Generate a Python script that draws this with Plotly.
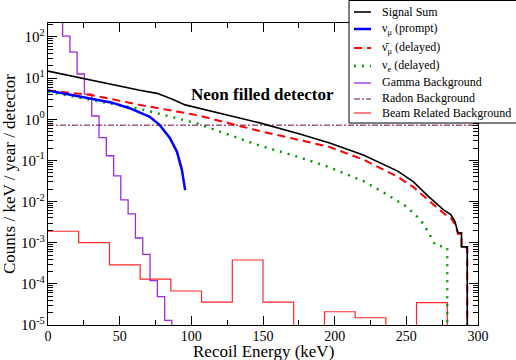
import plotly.graph_objects as go

# ---------------- data ----------------
sum_E = [0, 30, 64, 76, 86, 95.7, 120, 147, 175, 196, 220, 244, 255, 265, 276, 281, 284, 286, 288.5, 288.5, 292.5, 292.5]
sum_y = [14.8, 8.9, 5.1, 4.27, 3.16, 2.24, 1.41, 0.83, 0.447, 0.269, 0.135, 0.055, 0.030, 0.0138, 0.0063, 0.0048, 0.0032, 0.00174, 0.00174, 0.00079, 0.00079, 1e-9]

prompt_E = [0, 15, 30, 44, 57, 71, 78, 85, 90, 93.4, 95.7]
prompt_y = [5.0, 4.0, 3.24, 2.57, 1.86, 1.15, 0.72, 0.35, 0.162, 0.059, 0.019]

mubar_E = [0, 30, 64, 92, 104, 120, 147, 175, 196, 220, 244, 255, 265, 276, 281, 284, 286, 288.5, 288.5, 292.5, 292.5]
mubar_y = [5.0, 3.9, 2.24, 1.48, 1.26, 0.91, 0.525, 0.316, 0.214, 0.105, 0.040, 0.0224, 0.011, 0.0052, 0.0040, 0.0028, 0.00166, 0.00166, 0.00076, 0.00076, 1e-9]

nue_E = [0, 30, 64, 76, 92, 104, 120, 147, 175, 196, 220, 237, 250, 260, 265, 270, 278.5, 278.5]
nue_y = [4.68, 2.95, 1.78, 1.41, 1.0, 0.79, 0.50, 0.234, 0.12, 0.069, 0.0316, 0.0145, 0.0076, 0.00355, 0.0019, 0.00089, 0.00076, 1e-9]

gamma_edges = [5.1, 10.2, 15.3, 20.3, 25.4, 30.5, 35.6, 40.7, 45.8, 50.8, 55.9, 61.0, 66.1, 71.2, 76.3, 81.4, 86.4, 91.5]
gamma_vals = [1000, 105, 43, 12.6, 4.1, 1.2, 0.36, 0.13, 0.042, 0.011, 0.005, 0.0013, 0.00052, 0.00012, 0.000049, 0.000013, 1e-9]

radon_E = [0, 300]
radon_y = [0.72, 0.72]

beam_edges = [0, 21.4, 42.9, 64.3, 85.7, 107.1, 128.6, 150, 171.4, 192.9, 214.3, 235.7, 257.1, 278.6, 300]
beam_vals = [1.9e-3, 1.0e-3, 2.9e-4, 1.3e-4, 6.7e-5, 3.6e-5, 3.8e-4, 3.6e-5, 1e-9, 2.1e-5, 1.5e-5, 1e-9, 3.5e-5, 1e-9]

x_ticks = [0, 50, 100, 150, 200, 250, 300]
y_ticks = [1e-5, 1e-4, 1e-3, 1e-2, 1e-1, 1e0, 1e1, 1e2]
y_ticktext = ["10<sup>-5</sup>", "10<sup>-4</sup>", "10<sup>-3</sup>", "10<sup>-2</sup>",
              "10<sup>-1</sup>", "10<sup>0</sup>", "10<sup>1</sup>", "10<sup>2</sup>"]

legend_names = ["Signal Sum", "ν<sub>μ</sub> (prompt)", "ν\u0304<sub>μ</sub> (delayed)", "ν<sub>e</sub> (delayed)",
                "Gamma Background", "Radon Background", "Beam Related Background"]

# ---------------- styles ----------------
C_SUM = "black"
C_PROMPT = "rgb(0,0,255)"
C_MUBAR = "rgb(255,0,0)"
C_NUE = "rgb(0,150,0)"
C_GAMMA = "rgb(160,40,225)"
C_RADON = "rgb(103,7,72)"
C_BEAM = "rgb(255,40,40)"
SERIF = "Liberation Serif"

styles = [
    dict(color=C_SUM, width=1.6, dash="solid"),
    dict(color=C_PROMPT, width=2.5, dash="solid"),
    dict(color=C_MUBAR, width=2, dash="8px,5px"),
    dict(color=C_NUE, width=2.5, dash="2px,6px"),
    dict(color=C_GAMMA, width=1.3, dash="solid"),
    dict(color=C_RADON, width=1, dash="6px,2px,2px,2px"),
    dict(color=C_BEAM, width=1.2, dash="solid"),
]

fig = go.Figure()
fig.add_trace(go.Scatter(x=beam_edges, y=beam_vals + [beam_vals[-1]], mode="lines", line_shape="hv", line=styles[6]))
fig.add_trace(go.Scatter(x=gamma_edges, y=gamma_vals + [gamma_vals[-1]], mode="lines", line_shape="hv", line=styles[4]))
fig.add_trace(go.Scatter(x=radon_E, y=radon_y, mode="lines", line=styles[5]))
fig.add_trace(go.Scatter(x=nue_E, y=nue_y, mode="lines", line=styles[3]))
fig.add_trace(go.Scatter(x=mubar_E, y=mubar_y, mode="lines", line=styles[2]))
fig.add_trace(go.Scatter(x=prompt_E, y=prompt_y, mode="lines", line=styles[1]))
fig.add_trace(go.Scatter(x=sum_E, y=sum_y, mode="lines", line=styles[0]))

L, R, T, B = 48, 38, 23, 35
W, H = 516, 360
PW, PH = W - L - R, H - T - B

def px(xp):
    return (xp - L) / PW

def py(yp):
    return (H - B - yp) / PH

fig.update_layout(
    width=W, height=H, margin=dict(l=L, r=R, t=T, b=B, autoexpand=False),
    paper_bgcolor="white", plot_bgcolor="white", showlegend=False,
    font=dict(family=SERIF, color="black"),
)
fig.update_xaxes(
    range=[0, 300], tickvals=x_ticks, ticks="inside", ticklen=9, tickwidth=1,
    tickcolor="black", linecolor="black", linewidth=1.3, mirror="ticks",
    showgrid=False, zeroline=False, tickfont=dict(size=14, family=SERIF), automargin=False,
    ticklabelstandoff=-2,
    minor=dict(ticks="inside", ticklen=5, dtick=25, tickcolor="black", showgrid=False),
)
fig.update_yaxes(
    type="log", range=[-5, 2.34], tickvals=y_ticks, ticktext=y_ticktext,
    ticks="inside", ticklen=9, tickwidth=1, tickcolor="black",
    linecolor="black", linewidth=1.3, mirror="ticks", showgrid=False, zeroline=False,
    tickfont=dict(size=15, family=SERIF), automargin=False, ticklabelstandoff=-1,
    minor=dict(ticks="inside", ticklen=5, dtick="D1", tickcolor="black", showgrid=False),
)

annotations = [
    dict(text="<b>Neon filled detector</b>", x=px(262), y=py(94), xref="paper", yref="paper",
         showarrow=False, font=dict(size=17, family=SERIF), xanchor="center", yanchor="middle"),
    dict(text="Recoil Energy (keV)", x=px(263), y=py(351), xref="paper", yref="paper",
         showarrow=False, font=dict(size=17, family=SERIF), xanchor="center", yanchor="middle"),
    dict(text="Counts / keV / year / detector", x=px(9), y=py(174), xref="paper", yref="paper",
         showarrow=False, textangle=-90, font=dict(size=17, family=SERIF), xanchor="center", yanchor="middle"),
]
shapes = [
    dict(type="rect", xref="paper", yref="paper", x0=px(349), x1=px(520), y0=py(123), y1=py(0.5),
         fillcolor="white", line=dict(color="black", width=1), layer="above"),
]
line_y = [12, 29, 48, 66, 83, 99, 113]
text_y = [12, 29, 48, 66, 82, 98, 113]
for name, st, ly, ty in zip(legend_names, styles, line_y, text_y):
    shapes.append(dict(type="line", xref="paper", yref="paper", x0=px(354), x1=px(371), y0=py(ly), y1=py(ly),
                       line=dict(color=st["color"], width=st["width"], dash=st["dash"]), layer="above"))
    annotations.append(dict(text=name, x=px(380), y=py(ty), xref="paper", yref="paper", showarrow=False,
                            xanchor="left", yanchor="middle", font=dict(size=12, family=SERIF)))
fig.update_layout(annotations=annotations, shapes=shapes)

fig.write_html("out.html", config={"displayModeBar": False},
               post_script="document.body.style.margin='0px';document.body.style.overflow='hidden';")
